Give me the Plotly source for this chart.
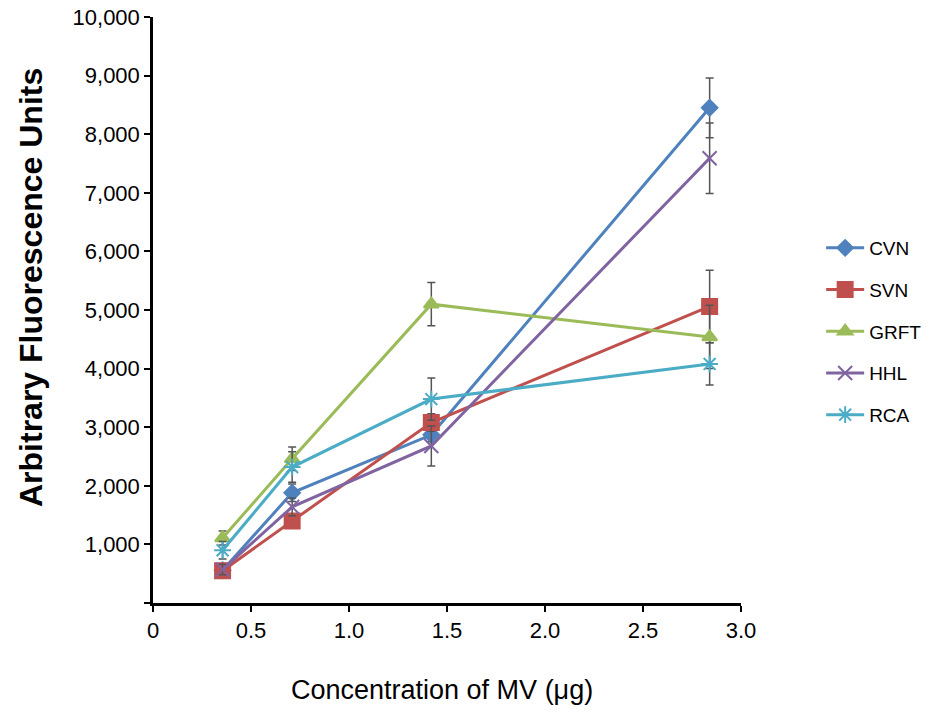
import plotly.graph_objects as go

conc = [0.355, 0.71, 1.42, 2.84]
series_names = ["CVN", "SVN", "GRFT", "HHL", "RCA"]
cvn = [560, 1880, 2870, 8450]
svn = [550, 1400, 3080, 5060]
grft = [1110, 2460, 5100, 4540]
hhl = [570, 1640, 2680, 7590]
rca = [900, 2320, 3480, 4080]
cvn_err = [100, 150, 120, 510]
svn_err = [80, 120, 150, 620]
grft_err = [120, 200, 370, 540]
hhl_err = [90, 150, 340, 600]
rca_err = [150, 260, 360, 360]

y_ticks = [0, 1000, 2000, 3000, 4000, 5000, 6000, 7000, 8000, 9000, 10000]
y_ticklabels = ["", "1,000", "2,000", "3,000", "4,000", "5,000", "6,000", "7,000", "8,000", "9,000", "10,000"]
x_ticks = [0, 0.5, 1.0, 1.5, 2.0, 2.5, 3.0]
x_ticklabels = ["0", "0.5", "1.0", "1.5", "2.0", "2.5", "3.0"]

values = [cvn, svn, grft, hhl, rca]
errors = [cvn_err, svn_err, grft_err, hhl_err, rca_err]
colors = ["#4F81BD", "#C0504D", "#9BBB59", "#8064A2", "#4BACC6"]
symbols = ["diamond", "square", "triangle-up", "x-thin", "asterisk"]
sizes = [12, 15, 13, 14, 14]

fig = go.Figure()
for name, v, e, c, s, sz in zip(series_names, values, errors, colors, symbols, sizes):
    fig.add_trace(go.Scatter(
        x=conc, y=v, name=name, mode="lines+markers", legendgroup=name,
        line=dict(color=c, width=3),
        marker=dict(symbol=s, size=sz, color=c, line=dict(color=c, width=2)),
        error_y=dict(type="data", array=e, visible=True, color="#555555", thickness=1.5, width=4),
    ))

fig.update_layout(
    width=931, height=720,
    paper_bgcolor="white", plot_bgcolor="white",
    margin=dict(l=153, r=190, t=17, b=117),
    font=dict(family="Liberation Sans, Arial, sans-serif", color="black", size=22),
    showlegend=True,
    legend=dict(xref="container", yref="container", x=0.882, y=1 - 229 / 720,
                xanchor="left", yanchor="top",
                font=dict(size=19), tracegroupgap=14, itemwidth=38,
                bgcolor="rgba(0,0,0,0)"),
    xaxis=dict(range=[0, 3.0], tickvals=x_ticks, ticktext=x_ticklabels, automargin=False,
               showgrid=False, zeroline=False, showline=True, linecolor="black", linewidth=2.5,
               ticks="outside", ticklen=6, tickwidth=2, tickcolor="black"),
    yaxis=dict(range=[0, 10000], tickvals=y_ticks, ticktext=y_ticklabels, automargin=False,
               ticklabeloverflow="allow",
               showgrid=False, zeroline=False, showline=True, linecolor="black", linewidth=2.5,
               ticks="outside", ticklen=6, tickwidth=2, tickcolor="black"),
    annotations=[
        dict(text="Concentration of MV (μg)", xref="paper", yref="paper",
             x=(442 - 153) / 588, y=-(690 - 603) / 586, xanchor="center", yanchor="middle",
             showarrow=False, font=dict(size=27)),
        dict(text="<b>Arbitrary Fluorescence Units</b>", xref="paper", yref="paper",
             x=-(153 - 31) / 588, y=(603 - 288) / 586, xanchor="center", yanchor="middle",
             textangle=-90, showarrow=False, font=dict(size=32)),
    ],
)
fig.write_html("out.html", config={"displayModeBar": False},
               post_script="document.body.style.margin='0';")
